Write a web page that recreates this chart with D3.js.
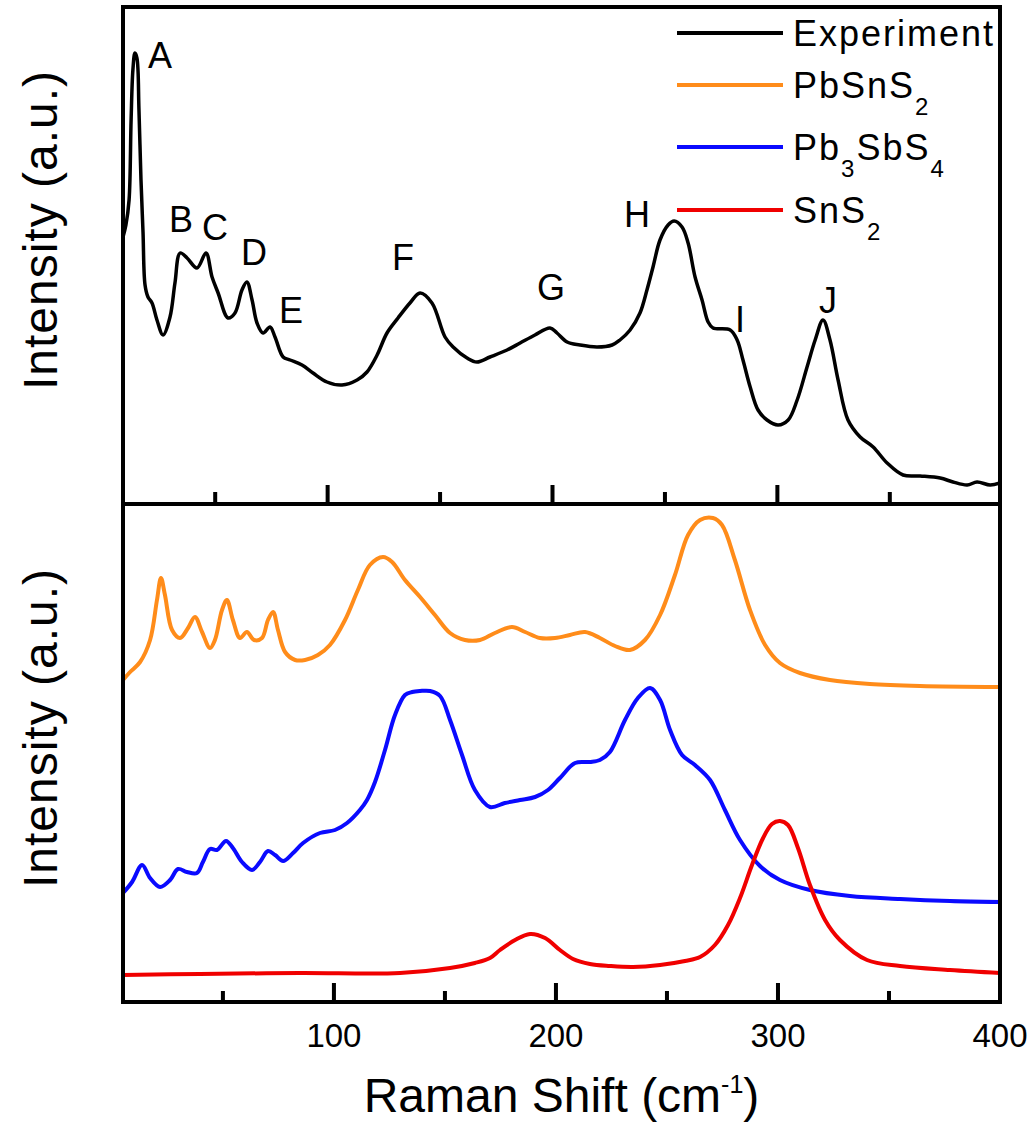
<!DOCTYPE html>
<html>
  <head>
    <meta charset="utf-8">
    <title>Raman spectra</title>
    <script src="https://d3js.org/d3.v7.min.js"></script>
    <style>
      body { margin: 0; background: #fff; }
      text { font-family: "Liberation Sans", Arial, sans-serif; fill: #000; }
    </style>
  </head>
  <body>
    <svg id="chart" width="1035" height="1127"></svg>
    <script>
      // experimental spectrum: [Raman shift, intensity]
      var experiment = [
        [9.0, 534], [10.3, 558], [11.7, 608], [12.6, 768], [13.4, 868], [14.3, 902],
        [15.2, 892], [16.1, 788], [17.0, 648], [17.9, 544], [18.8, 438], [20.1, 414],
        [21.9, 402], [24.1, 368], [26.8, 338], [29.9, 374], [32.1, 442], [34.4, 502],
        [37.5, 492], [41.9, 472], [45.9, 502], [48.6, 454], [51.3, 422], [55.7, 372],
        [58.8, 382], [61.9, 428], [64.1, 444], [66.4, 408], [68.6, 362], [71.3, 342],
        [74.4, 354], [76.6, 334], [80.2, 294], [83.3, 288], [88.6, 278], [93.5, 262],
        [99.7, 244], [106.4, 238], [113.1, 248], [117.5, 264], [122.0, 298], [126.4, 342],
        [131.3, 372], [136.6, 402], [141.1, 422], [146.4, 402], [152.2, 334], [155.8, 314],
        [162.0, 292], [166.4, 284], [172.2, 294], [179.8, 308], [185.6, 322], [192.2, 338],
        [198.9, 352], [202.0, 342], [206.5, 324], [212.2, 318], [219.8, 314], [226.5, 318],
        [230.0, 328], [234.5, 348], [238.9, 382], [242.0, 428], [244.7, 474], [247.8, 528],
        [251.4, 558], [254.1, 566], [257.6, 554], [260.3, 522], [263.4, 454], [266.5, 408],
        [269.2, 364], [271.4, 352], [279.0, 348], [282.1, 328], [284.7, 288], [287.9, 234],
        [291.4, 188], [295.4, 168], [300.3, 158], [304.8, 168], [308.8, 208], [313.2, 274],
        [316.8, 328], [320.3, 368], [323.4, 328], [327.0, 248], [331.4, 168], [336.8, 134],
        [342.6, 114], [348.8, 82], [355.9, 58], [363.5, 56], [372.4, 52], [378.1, 44],
        [384.4, 38], [388.8, 44], [394.6, 38], [399.0, 42]
      ];
      // peak letters placed at [shift, intensity]
      var peakNames = ["A", "B", "C", "D", "E", "F", "G", "H", "I", "J"];
      var peakShift = [25.5, 34.8, 49.9, 67.3, 83.7, 133.5, 199.3, 237.6, 283.4, 322.5];
      var peakLevel = [872, 544, 528, 478, 362, 468, 408, 554, 344, 382];

      // calculated spectra
      var pbsns2 = [
        [5.0, 644], [8.2, 660], [12.7, 680], [17.2, 724], [20.3, 804], [22.1, 848],
        [23.9, 814], [27.1, 744], [30.7, 728], [34.3, 748], [37.4, 770], [40.6, 740],
        [44.2, 708], [46.4, 724], [49.6, 784], [51.8, 804], [54.5, 764], [57.7, 728],
        [60.8, 740], [64.0, 724], [67.6, 728], [70.3, 764], [72.6, 780], [74.8, 744],
        [78.0, 700], [82.5, 684], [87.0, 684], [92.8, 694], [98.2, 714], [105.0, 764],
        [110.8, 824], [116.2, 874], [122.1, 890], [126.2, 880], [132.0, 844], [138.8, 810],
        [145.5, 774], [152.3, 738], [159.0, 724], [165.8, 724], [172.5, 738], [180.2, 750],
        [186.1, 740], [192.8, 728], [199.6, 728], [206.3, 734], [213.1, 740], [219.8, 728],
        [226.6, 712], [233.3, 704], [240.1, 724], [246.9, 774], [253.6, 854], [259.5, 934],
        [264.9, 964], [270.7, 968], [274.8, 954], [280.6, 884], [287.4, 784], [294.2, 714],
        [300.9, 678], [309.9, 658], [323.4, 644], [341.4, 636], [364.0, 632], [400.0, 630]
      ];
      var pb3sbs4 = [
        [5.0, 218], [9.1, 240], [13.6, 274], [17.2, 248], [21.7, 230], [26.2, 244],
        [29.8, 266], [33.8, 260], [38.3, 258], [41.0, 280], [44.2, 306], [47.3, 304],
        [51.4, 322], [54.5, 308], [58.6, 280], [63.1, 264], [66.7, 280], [70.3, 302],
        [73.5, 294], [77.1, 282], [81.6, 298], [86.1, 318], [93.7, 338], [100.5, 344],
        [105.9, 358], [111.7, 384], [114.9, 404], [118.5, 440], [123.0, 504], [127.5, 574],
        [132.0, 614], [135.2, 620], [138.8, 622], [143.3, 622], [147.8, 612], [152.3, 564],
        [157.7, 494], [163.5, 424], [170.3, 390], [177.0, 398], [183.8, 404], [190.6, 410],
        [196.4, 424], [201.8, 448], [208.6, 478], [215.3, 480], [219.8, 484], [224.3, 500],
        [231.1, 564], [236.9, 608], [242.4, 628], [246.9, 604], [251.4, 544], [256.8, 494],
        [262.6, 474], [269.4, 444], [276.1, 384], [282.9, 324], [291.9, 272], [300.9, 244],
        [314.4, 224], [332.4, 212], [355.0, 206], [377.5, 202], [400.0, 200]
      ];
      var sns2 = [
        [5.0, 54], [39.7, 56], [84.7, 58], [129.8, 58], [152.3, 68], [163.5, 78],
        [170.3, 88], [174.8, 104], [181.6, 124], [188.3, 136], [195.1, 128], [201.8, 104],
        [207.7, 86], [215.3, 76], [224.3, 72], [234.7, 70], [246.9, 74], [258.1, 82],
        [264.9, 90], [271.6, 114], [277.5, 154], [282.9, 208], [288.3, 274], [293.3, 328],
        [297.3, 356], [300.9, 362], [304.5, 354], [309.0, 308], [314.4, 234], [321.2, 164],
        [327.9, 124], [340.1, 84], [355.0, 72], [377.5, 64], [400.0, 58]
      ];
      var majorTicks = [100, 200, 300, 400];
      var minorTicks = [50, 150, 250, 350];

      var svg = d3.select("#chart");
      var plotLeft = 123, plotRight = 1000, plotTop = 7, plotMid = 504, plotBottom = 1002;

      // the two panels use slightly different x ranges
      var xTop = d3.scaleLinear().domain([9, 399]).range([plotLeft, plotRight]);
      var xBot = d3.scaleLinear().domain([5, 400]).range([plotLeft, plotRight]);
      var yTop = d3.scaleLinear().domain([0, 994]).range([plotMid, plotTop]);
      var yBot = d3.scaleLinear().domain([0, 996]).range([plotBottom, plotMid]);

      svg.append("clipPath").attr("id", "clipTop")
        .append("rect").attr("x", plotLeft).attr("y", plotTop)
        .attr("width", plotRight - plotLeft).attr("height", plotMid - plotTop);
      svg.append("clipPath").attr("id", "clipBot")
        .append("rect").attr("x", plotLeft).attr("y", plotMid)
        .attr("width", plotRight - plotLeft).attr("height", plotBottom - plotMid);

      function spectrum(x, y) {
        return d3.line()
          .x(function(d) { return x(d[0]); })
          .y(function(d) { return y(d[1]); })
          .curve(d3.curveCatmullRom.alpha(0.5));
      }

      // top panel
      svg.append("path")
        .datum(experiment)
        .attr("clip-path", "url(#clipTop)")
        .attr("d", spectrum(xTop, yTop))
        .attr("fill", "none")
        .attr("stroke", "#000")
        .attr("stroke-width", 3.5)
        .attr("stroke-linejoin", "round");

      svg.selectAll(".peak")
        .data(peakNames)
        .enter().append("text")
          .attr("class", "peak")
          .attr("x", function(d, i) { return xTop(peakShift[i]); })
          .attr("y", function(d, i) { return yTop(peakLevel[i]); })
          .attr("text-anchor", "middle")
          .style("font-size", "36px")
          .text(function(d) { return d; });

      // bottom panel
      var series = [
        { data: pbsns2, colour: "#ff8c1a" },
        { data: pb3sbs4, colour: "#0a0aff" },
        { data: sns2, colour: "#f00000" }
      ];
      svg.selectAll(".calc")
        .data(series)
        .enter().append("path")
          .attr("class", "calc")
          .attr("clip-path", "url(#clipBot)")
          .attr("d", function(d) { return spectrum(xBot, yBot)(d.data); })
          .attr("fill", "none")
          .attr("stroke", function(d) { return d.colour; })
          .attr("stroke-width", 4);

      // frames
      svg.append("rect")
        .attr("x", plotLeft).attr("y", plotTop)
        .attr("width", plotRight - plotLeft).attr("height", plotBottom - plotTop)
        .attr("fill", "none").attr("stroke", "#000").attr("stroke-width", 4);
      svg.append("rect")
        .attr("x", plotLeft).attr("y", plotMid - 2)
        .attr("width", plotRight - plotLeft).attr("height", 4)
        .attr("fill", "#000");

      // inward tick marks on both panels' bottom edges
      function tickMarks(x, y0, values, len, cls) {
        svg.selectAll("." + cls)
          .data(values)
          .enter().append("rect")
            .attr("class", cls)
            .attr("x", function(d) { return x(d) - 2; })
            .attr("y", y0 - len)
            .attr("width", 4)
            .attr("height", len)
            .attr("fill", "#000");
      }
      tickMarks(xTop, plotMid, majorTicks.slice(0, 3), 19, "topMajor");
      tickMarks(xTop, plotMid, minorTicks, 12, "topMinor");
      tickMarks(xBot, plotBottom, majorTicks, 19, "botMajor");
      tickMarks(xBot, plotBottom, minorTicks, 11, "botMinor");

      svg.selectAll(".tickLabel")
        .data(majorTicks)
        .enter().append("text")
          .attr("class", "tickLabel")
          .attr("x", function(d) { return xBot(d); })
          .attr("y", plotBottom + 45)
          .attr("text-anchor", "middle")
          .style("font-size", "33px")
          .text(function(d) { return d; });

      // axis titles
      var xTitle = svg.append("text")
        .attr("x", (plotLeft + plotRight) / 2)
        .attr("y", 1112)
        .attr("text-anchor", "middle")
        .style("font-size", "48px");
      xTitle.append("tspan").text("Raman Shift (cm");
      xTitle.append("tspan").attr("dy", -19).style("font-size", "25px").text("-1");
      xTitle.append("tspan").attr("dy", 19).text(")");

      [230, 728].forEach(function(cy) {
        svg.append("text")
          .attr("transform", "translate(57," + cy + ") rotate(-90)")
          .attr("text-anchor", "middle")
          .style("font-size", "48px")
          .style("letter-spacing", "1px")
          .text("Intensity (a.u.)");
      });

      // legend
      var legendNames = [["Experiment"], ["PbSnS", "2"], ["Pb", "3", "SbS", "4"], ["SnS", "2"]];
      var legendColours = ["#000", "#ff8c1a", "#0a0aff", "#f00000"];
      var legendY = [33, 85, 147, 210];
      legendNames.forEach(function(parts, i) {
        svg.append("line")
          .attr("x1", 677).attr("x2", 783)
          .attr("y1", legendY[i]).attr("y2", legendY[i])
          .attr("stroke", legendColours[i])
          .attr("stroke-width", 4);
        var t = svg.append("text")
          .attr("x", 793)
          .attr("y", legendY[i] + 13)
          .style("font-size", "36px")
          .style("letter-spacing", "2px");
        parts.forEach(function(p, j) {
          var sub = j % 2 === 1;
          t.append("tspan")
            .attr("dy", j === 0 ? 0 : (sub ? 17 : -17))
            .style("font-size", sub ? "24px" : "36px")
            .text(p);
        });
      });
    </script>
  </body>
</html>
